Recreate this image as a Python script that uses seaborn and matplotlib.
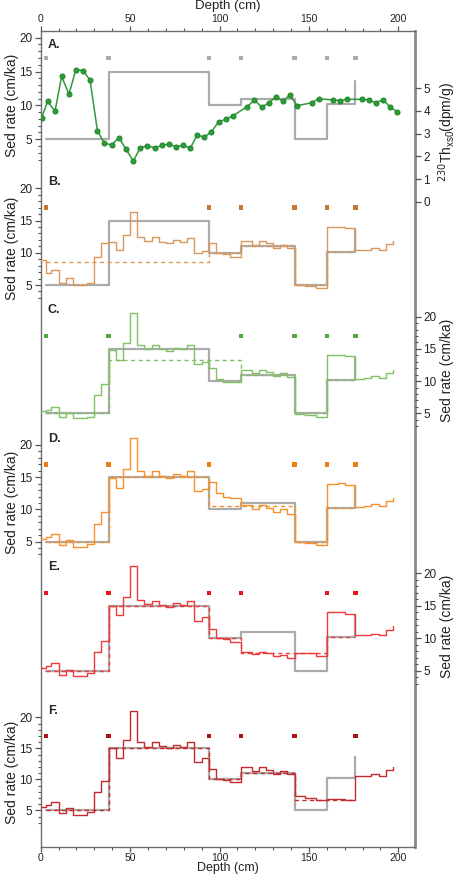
import numpy as np
import seaborn as sns
import matplotlib.pyplot as plt
from matplotlib.ticker import FixedLocator

sns.set_theme(style="ticks")
plt.rcParams["font.family"] = ["Liberation Sans", "DejaVu Sans"]

# ---- data ----
# depth bin edges (cm) of the stepped sed-rate estimates
depth_bins = [0, 3, 6, 10, 14, 18, 22, 26, 30, 34, 38, 42, 46, 50, 54, 58, 62, 66, 70, 74,
              78, 82, 86, 90, 94, 98, 102, 106, 112, 118, 122, 126, 130, 134, 138, 142,
              148, 154, 160, 166, 170, 176, 181, 185, 189, 193, 197]

rate_b = [8.9, 6.9, 7.3, 5.3, 6.1, 5.0, 5.0, 5.3, 9.3, 11.5,
          11.7, 10.4, 12.8, 16.4, 12.5, 11.9, 12.4, 11.7, 11.5, 12.0,
          11.7, 12.3, 10.0, 10.3, 11.5, 10.0, 9.8, 9.3, 11.9, 11.2,
          11.9, 11.5, 10.7, 11.2, 10.7, 5.0, 4.85, 4.6, 14.0, 14.0,
          13.8, 10.4, 10.5, 10.8, 10.5, 11.3, 11.9]
rate_c = [5.4, 5.5, 6.0, 4.5, 5.1, 4.2, 4.2, 4.5, 7.8, 9.6,
          14.8, 13.2, 15.9, 20.6, 15.6, 15.0, 15.6, 15.0, 14.7, 15.2,
          15.0, 15.6, 12.6, 13.0, 12.0, 10.3, 9.9, 9.8, 11.7, 11.2,
          11.8, 11.4, 10.8, 11.2, 10.7, 4.85, 4.7, 4.5, 14.0, 14.1,
          13.9, 10.4, 10.5, 10.8, 10.5, 11.3, 11.8]
rate_d = [5.4, 5.7, 6.15, 4.45, 5.2, 4.2, 4.2, 4.6, 7.75, 9.6,
          14.9, 13.4, 16.2, 21.1, 15.9, 15.2, 15.9, 15.2, 14.9, 15.5,
          15.2, 15.9, 12.8, 13.1, 14.2, 12.5, 12.0, 11.7, 10.7, 10.0,
          10.7, 10.2, 9.65, 10.0, 9.3, 5.0, 4.85, 4.5, 14.0, 14.1,
          13.8, 10.4, 10.5, 10.8, 10.5, 11.3, 11.8]
rate_e = [5.4, 5.7, 6.2, 4.4, 5.1, 4.2, 4.2, 4.6, 7.9, 9.5,
          15.0, 13.5, 16.3, 21.1, 15.9, 15.3, 15.8, 15.1, 14.8, 15.4,
          15.1, 15.8, 12.7, 13.2, 11.4, 10.1, 9.85, 9.4, 7.85, 7.5,
          7.85, 7.7, 7.2, 7.4, 6.9, 7.7, 7.65, 7.2, 14.0, 14.1,
          13.8, 10.5, 10.5, 10.7, 10.5, 11.3, 11.9]
rate_f = [5.5, 5.8, 6.3, 4.6, 5.3, 4.3, 4.3, 4.7, 8.0, 9.8,
          15.1, 13.5, 16.3, 21.0, 16.0, 15.2, 16.0, 15.3, 15.0, 15.6,
          15.2, 16.0, 12.8, 13.4, 11.6, 10.1, 9.85, 9.5, 12.0, 11.3,
          12.0, 11.5, 10.9, 11.3, 10.8, 7.3, 7.0, 6.7, 6.8, 6.8,
          6.7, 10.5, 10.6, 10.9, 10.6, 11.5, 12.0]

# "true" sed rate (gray)
true_depth = [3, 38, 94, 112, 142, 160, 176]
true_rate = [5, 15, 10, 11, 5, 10.2, 13.6]

# tie points (squares) and piecewise model (dashed) per panel
tie_b = [3, 94, 112, 142, 160, 176]
model_b = [8.5, 10, 11, 5, 10.2, 10.2]
tie_c = [3, 38, 112, 142, 160, 176]
model_c = [5, 13.3, 11, 5, 10.2, 10.2]
tie_d = [3, 38, 94, 142, 160, 176]
model_d = [5, 15, 10.6, 5, 10.2, 10.2]
tie_e = [3, 38, 94, 112, 160, 176]
model_e = [5, 15, 10, 7.7, 10.2, 10.2]
tie_f = [3, 38, 94, 112, 142, 176]
model_f = [5, 15, 10, 11, 6.6, 6.6]

# 230Th xs0 profile (panel A)
th_depth = [0.5, 3.9, 8.0, 11.7, 15.8, 19.7, 23.7, 27.6, 31.7, 35.6,
            39.7, 43.8, 47.7, 51.8, 55.6, 59.7, 63.7, 67.8, 71.7, 75.8,
            79.7, 83.7, 87.6, 91.5, 95.4, 99.5, 103.6, 107.5, 115.4, 119.5,
            123.6, 127.5, 131.4, 135.4, 139.4, 143.4, 151.6, 155.5, 163.5, 167.4,
            171.5, 179.5, 183.4, 187.5, 191.4, 195.3, 199.2]
th_values = [3.70, 4.42, 3.98, 5.52, 4.74, 5.82, 5.77, 5.36, 3.13, 2.57,
             2.51, 2.82, 2.31, 1.79, 2.37, 2.47, 2.37, 2.48, 2.54, 2.42,
             2.48, 2.37, 2.94, 2.84, 3.08, 3.51, 3.64, 3.78, 4.19, 4.47,
             4.17, 4.35, 4.61, 4.44, 4.69, 4.23, 4.36, 4.54, 4.48, 4.45,
             4.51, 4.51, 4.48, 4.36, 4.49, 4.19, 3.96]

GRAY = "#ababab"

# ---- layout (pixel based) ----
W, H = 459, 875
L_PX, R_PX, T_PX, B_PX = 40.7, 415, 30.7, 846.7
XMAX = (R_PX - L_PX) / 1.788

fig = plt.figure(figsize=(W / 100, H / 100), dpi=100)

def add_px_axes(top, bot):
    return fig.add_axes([L_PX / W, 1 - bot / H, (R_PX - L_PX) / W, (bot - top) / H])

frame = add_px_axes(T_PX, B_PX)
frame.set_xlim(0, XMAX)
frame.set_ylim(0, 1)
frame.set_yticks([])
frame.xaxis.set_major_locator(FixedLocator([0, 50, 100, 150, 200]))
frame.xaxis.set_minor_locator(FixedLocator(list(range(10, 210, 10))))
frame.tick_params(axis="x", which="both", direction="out", top=True, labeltop=True,
                  bottom=True, labelbottom=True, colors="#555555", labelcolor="#222222",
                  labelsize=7.5, pad=1)
frame.tick_params(axis="x", which="major", length=3.5, width=0.9)
frame.tick_params(axis="x", which="minor", length=2.2, width=0.8)
for side, s in frame.spines.items():
    s.set_color("#6e6e6e")
    s.set_linewidth(1.0)
frame.spines["right"].set_color("#8a8a8a")
frame.spines["right"].set_linewidth(2.0)
frame.set_facecolor("white")

def panel(y0_px, scale, side, minor_from=3):
    top = max(T_PX, y0_px - 22 * scale)
    bot = min(B_PX, y0_px + 0.6 * scale)
    ax = add_px_axes(top, bot)
    ax.set_xlim(0, XMAX)
    ax.set_ylim((y0_px - bot) / scale, (y0_px - top) / scale)
    ax.patch.set_alpha(0)
    for s in ax.spines.values():
        s.set_visible(False)
    ax.set_xticks([])
    ax.yaxis.set_major_locator(FixedLocator([5, 10, 15, 20]))
    ax.yaxis.set_minor_locator(FixedLocator([v for v in range(minor_from, 21) if v % 5]))
    ax.yaxis.set_ticks_position(side)
    ax.tick_params(axis="y", which="both", direction="out", colors="#555555",
                   labelcolor="#222222", labelsize=8.5, pad=2)
    ax.tick_params(axis="y", which="major", length=4, width=0.9)
    ax.tick_params(axis="y", which="minor", length=2.5, width=0.8)
    ax.set_xlabel("")
    ax.set_ylabel("")
    return ax

def steps(ax, x, y, color, lw, ls="-"):
    sns.lineplot(x=x, y=y, estimator=None, sort=False, drawstyle="steps-post",
                 color=color, lw=lw, ls=ls, ax=ax)

def ties(ax, x, color):
    sns.scatterplot(x=x, y=[17] * len(x), marker="s", s=10, color=color,
                    edgecolor="none", ax=ax)

# Panel A
ax_a = panel(173.1, 6.77, "left", minor_from=2)
steps(ax_a, true_depth, true_rate, GRAY, 1.6)
ties(ax_a, true_depth, GRAY)

th_top, th_bot = T_PX, 212
ax_th = add_px_axes(th_top, th_bot)
ax_th.set_xlim(0, XMAX)
ax_th.set_ylim((201.7 - th_bot) / 22.7, (201.7 - th_top) / 22.7)
ax_th.patch.set_alpha(0)
for s in ax_th.spines.values():
    s.set_visible(False)
ax_th.set_xticks([])
ax_th.yaxis.set_major_locator(FixedLocator([0, 1, 2, 3, 4, 5]))
ax_th.yaxis.set_ticks_position("right")
ax_th.tick_params(axis="y", direction="out", length=4, width=0.9, colors="#555555",
                  labelcolor="#222222", labelsize=8.5, pad=2)
sns.lineplot(x=th_depth, y=th_values, estimator=None, sort=False, color="#2f9a3a",
             lw=1.1, marker="o", markersize=3.6, markeredgecolor="#1f8a2c", ax=ax_th)
ax_th.set_xlabel("")
ax_th.set_ylabel("")

panels = [
    ("B.", 317.3, 6.45, "left", rate_b, tie_b, model_b, "#d9975c", "#c8782f"),
    ("C.", 445.5, 6.44, "right", rate_c, tie_c, model_c, "#82c064", "#4faa3c"),
    ("D.", 573.8, 6.44, "left", rate_d, tie_d, model_d, "#f5912a", "#f07d12"),
    ("E.", 703.1, 6.49, "right", rate_e, tie_e, model_e, "#ee3a3a", "#e8161c"),
    ("F.", 841.3, 6.20, "left", rate_f, tie_f, model_f, "#c62a2e", "#b01018"),
]

ax_a.text(4, 18.9, "A.", fontsize=9, fontweight="bold", va="center", ha="left")

for label, y0, sc, side, rate, tie, model, col, mcol in panels:
    ax = panel(y0, sc, side)
    steps(ax, true_depth, true_rate, GRAY, 1.6)
    steps(ax, tie, model, col, 1.0, ls=(0, (3, 2.5)))
    steps(ax, depth_bins, rate, col, 1.0)
    ties(ax, tie, mcol)
    ax.text(4, 21.0, label, fontsize=9, fontweight="bold", va="center", ha="left")

# ---- axis titles ----
lab = dict(color="#222222", ha="center")
fig.text(228 / W, 1.0, "Depth (cm)", va="top", fontsize=9.5, **lab)
fig.text(228 / W, 0.5 / H, "Depth (cm)", va="bottom", fontsize=9, **lab)
for yc in [105, 248, 502, 772]:
    fig.text(12 / W, 1 - yc / H, "Sed rate (cm/ka)", rotation=90, va="center",
             fontsize=10, **lab)
for yc in [370, 626]:
    fig.text(447 / W, 1 - yc / H, "Sed rate (cm/ka)", rotation=90, va="center",
             fontsize=10, **lab)
fig.text(447 / W, 1 - 132 / H, r"$^{230}$Th$_{\mathregular{xs0}}$(dpm/g)", rotation=90,
         va="center", fontsize=10, **lab)

fig.savefig("out.png", dpi=100)
